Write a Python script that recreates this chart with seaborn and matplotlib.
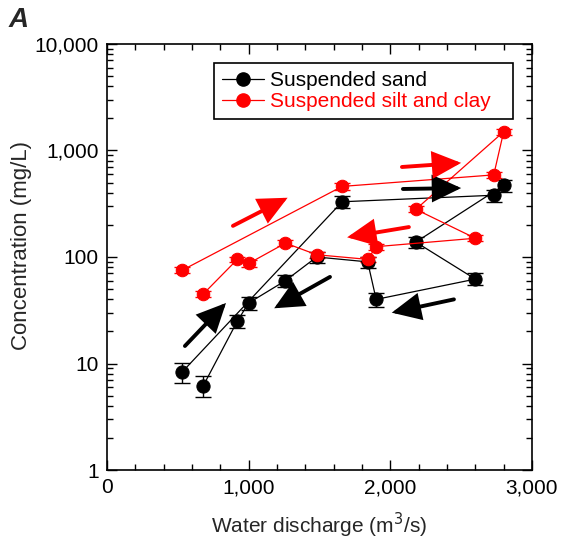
import numpy as np
import pandas as pd
import matplotlib
matplotlib.use("Agg")
import matplotlib.pyplot as plt
import seaborn as sns
from matplotlib.ticker import FuncFormatter, MultipleLocator, LogLocator, NullFormatter
from matplotlib.lines import Line2D

# Data (time order of sampling)
discharge = [530, 1660, 2730, 2800, 2180, 2600, 1900, 1840, 1480, 1260, 1000, 920, 680]
sand = [8.3, 330, 380, 470, 138, 62, 40, 90, 100, 60, 37, 25, 6.2]
sand_err = [1.8, 40, 50, 60, 16, 8, 6, 11, 12, 8, 5, 3.5, 1.4]
silt = [75, 460, 590, 1500, 280, 150, 125, 95, 105, 135, 87, 95, 45]
silt_err = [5, 30, 40, 100, 18, 10, 8, 6, 7, 9, 6, 6, 3]

series_labels = ["Suspended sand", "Suspended silt and clay"]
series_colors = ["black", "red"]

# Hysteresis arrows: (tail_x, tail_y, tip_x, tip_y, color)
arrows = [
    (550, 14.6, 840, 37, "black"),
    (1574, 65, 1180, 33, "black"),
    (2089, 435, 2500, 444, "black"),
    (2449, 40, 2010, 30, "black"),
    (889, 196, 1275, 360, "red"),
    (2082, 700, 2500, 765, "red"),
    (2131, 191, 1695, 153, "red"),
]

sns.set_theme(style="ticks")
plt.rcParams['font.family'] = ['Liberation Sans', 'DejaVu Sans']

fig = plt.figure(figsize=(5.62, 5.45), dpi=100)
ax = fig.add_axes([0.1904, 0.1376, 0.7562, 0.7817])

df = pd.DataFrame({"q": discharge, "sand": sand, "silt": silt,
                   "sand_err": sand_err, "silt_err": silt_err})

for col, ecol, color, ms in [("sand", "sand_err", "black", 9.5), ("silt", "silt_err", "red", 9)]:
    ax.errorbar(df["q"], df[col], yerr=df[ecol], fmt="none", ecolor=color,
                elinewidth=1.0, capsize=6, capthick=1.0, zorder=2)
    sns.lineplot(data=df, x="q", y=col, sort=False, estimator=None, ax=ax,
                 color=color, lw=0.9, marker="o", markersize=ms,
                 markeredgecolor=color, markerfacecolor=color, zorder=3)

for tx, ty, hx, hy, c in arrows:
    ax.annotate("", xy=(hx, hy), xytext=(tx, ty),
                arrowprops=dict(arrowstyle="-|>,head_length=1.1,head_width=0.52",
                                lw=2.8, color=c, mutation_scale=15,
                                shrinkA=0, shrinkB=0, joinstyle="miter"),
                zorder=4)

ax.set_yscale("log")
ax.set_xlim(0, 3000)
ax.set_ylim(1, 10000)
ax.xaxis.set_major_locator(MultipleLocator(1000))
ax.xaxis.set_minor_locator(MultipleLocator(200))
ax.yaxis.set_major_locator(LogLocator(base=10, numticks=10))
ax.yaxis.set_minor_locator(LogLocator(base=10, subs=np.arange(2, 10), numticks=20))
ax.yaxis.set_minor_formatter(NullFormatter())
fmt = FuncFormatter(lambda v, p: "{:,.0f}".format(v))
ax.xaxis.set_major_formatter(fmt)
ax.yaxis.set_major_formatter(fmt)

ax.tick_params(which="both", direction="in", top=True, right=True, colors="black",
               labelsize=15, width=1)
ax.tick_params(which="major", length=7, pad=6)
ax.tick_params(which="minor", length=4)
for s in ax.spines.values():
    s.set_linewidth(1.2)
    s.set_color("black")

ax.set_xlabel("Water discharge (m$^3$/s)", fontsize=15, labelpad=10)
ax.set_ylabel("Concentration (mg/L)", fontsize=16)
ax.yaxis.set_label_coords(-0.176, 0.527)

handles = [Line2D([0], [0], color=c, lw=0.9, marker="o", markersize=9.5,
                  markerfacecolor=c, markeredgecolor=c) for c in series_colors]
leg = ax.legend(handles, series_labels, loc="upper left",
                bbox_to_anchor=(0.2518, 0.0, 0.7035, 0.9554), mode="expand",
                fontsize=15, frameon=True, fancybox=False, framealpha=1,
                edgecolor="black", handlelength=2.0, handletextpad=0.3,
                borderpad=0.38, labelspacing=0.12, borderaxespad=0)
leg.get_frame().set_linewidth(1.2)
for t, c in zip(leg.get_texts(), series_colors):
    t.set_color(c)

fig.text(0.015, 0.988, "A", fontsize=20, fontweight="bold", fontstyle="italic",
         va="top", ha="left")

fig.savefig("out.png", dpi=100)
